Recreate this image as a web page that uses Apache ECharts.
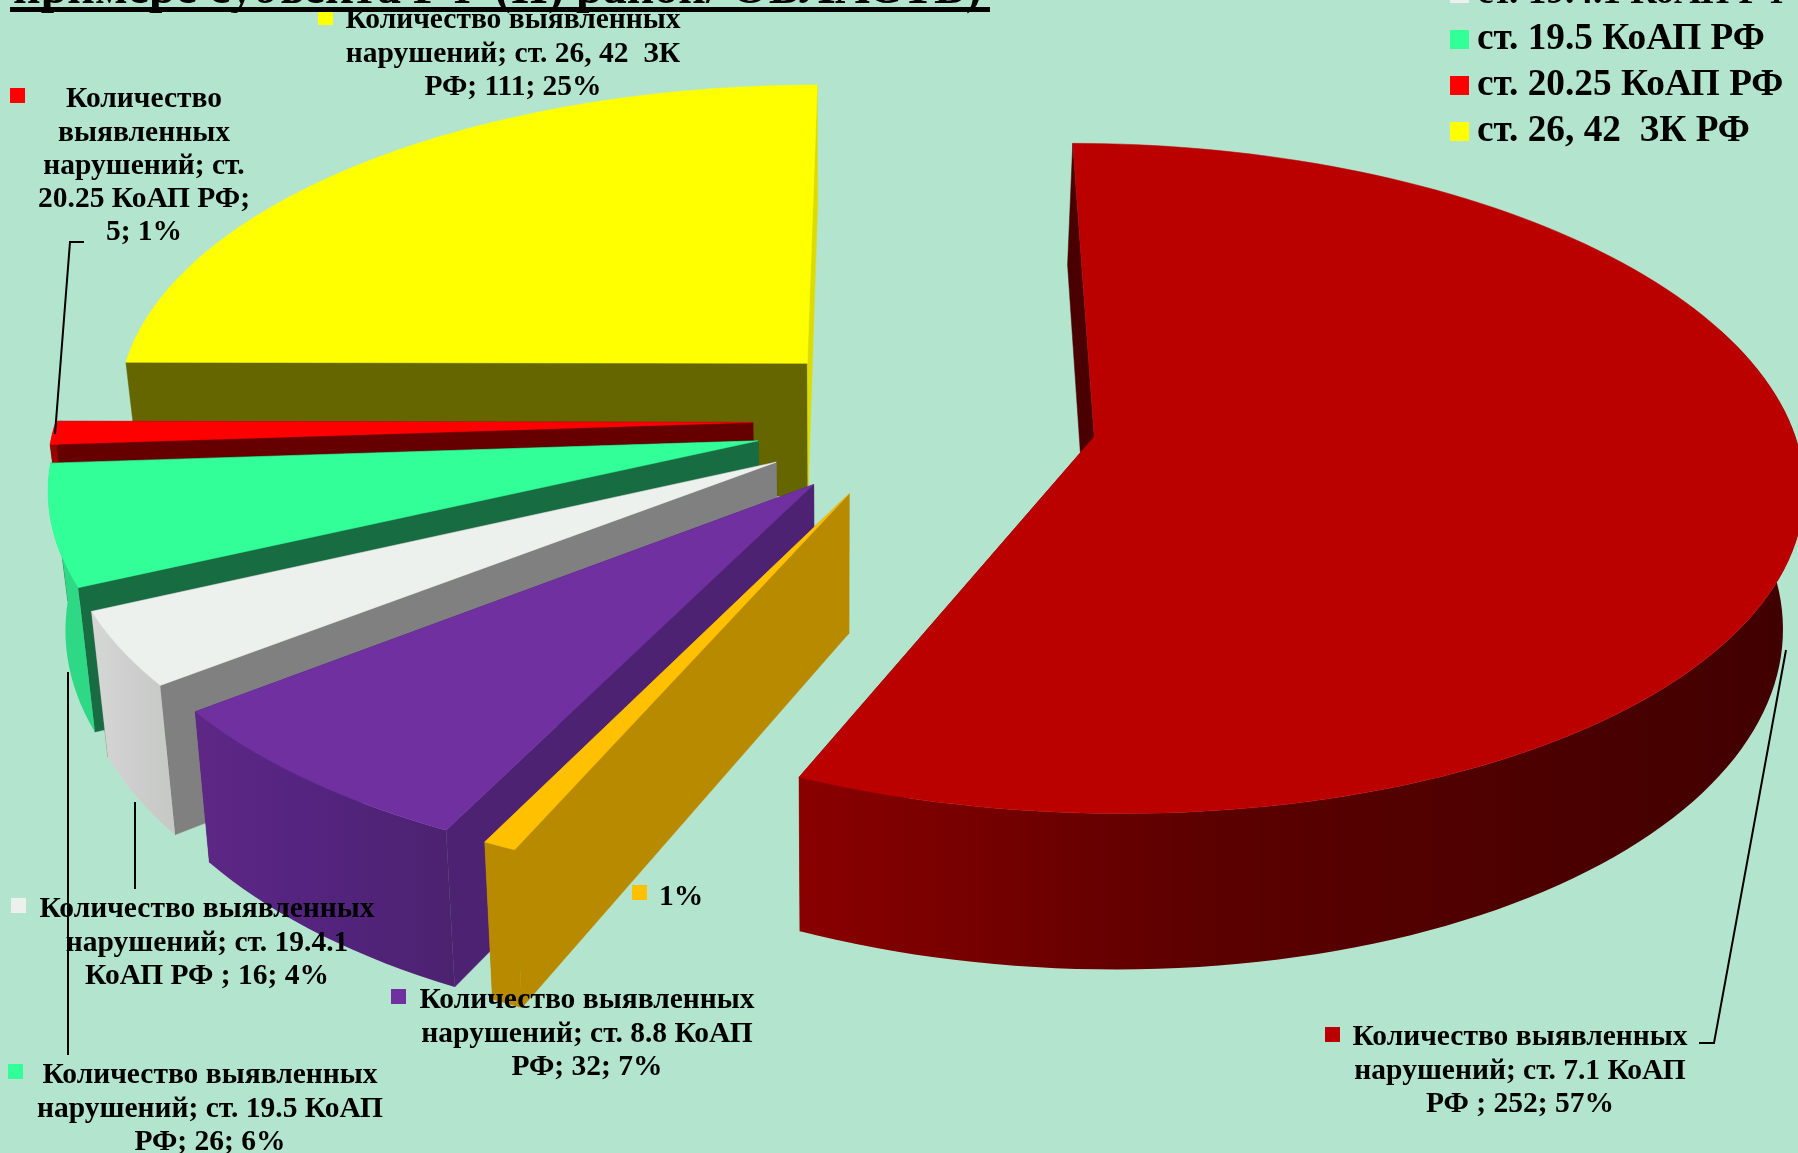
<!DOCTYPE html>
<html><head><meta charset="utf-8">
<style>html,body{margin:0;padding:0;background:#b3e5ce;overflow:hidden}#c{width:1798px;height:1153px}</style>
<script src="https://cdn.jsdelivr.net/npm/echarts@6/dist/echarts.min.js"></script>
</head><body><div id="c"></div>
<script>
// ---- data ----
const categories = ['ст. 7.1 КоАП РФ', '', 'ст. 8.8 КоАП РФ', 'ст. 19.4.1 КоАП РФ', 'ст. 19.5 КоАП РФ', 'ст. 20.25 КоАП РФ', 'ст. 26, 42  ЗК РФ'];
const values = [252, 3, 32, 16, 26, 5, 111];
const percents = [57, 1, 7, 4, 6, 1, 25];
const labelTexts = [
  'Количество выявленных\nнарушений; ст. 7.1 КоАП\nРФ ; 252; 57%',
  '1%',
  'Количество выявленных\nнарушений; ст. 8.8 КоАП\nРФ; 32; 7%',
  'Количество выявленных\nнарушений; ст. 19.4.1\nКоАП РФ ; 16; 4%',
  'Количество выявленных\nнарушений; ст. 19.5 КоАП\nРФ; 26; 6%',
  'Количество\nвыявленных\nнарушений; ст.\n20.25 КоАП РФ;\n5; 1%',
  'Количество выявленных\nнарушений; ст. 26, 42  ЗК\nРФ; 111; 25%'
];
const titleText = 'примере субъекта РФ (II) район/ ОБЛАСТЬ)';
const legendNames = categories.slice(3);

// ---- styles ----
const topColors  = ['#bb0000','#ffc000','#7030a0','#ecf1ee','#33ff99','#ff0000','#ffff00'];
const rimLeft    = ['#8a0000','#b88a00','#5e2786','#d6d8d6','#2ed884','#990000','#dcdc00'];
const rimMid     = ['#5c0000','#b88a00','#552480','#cecfce','#2ed884','#990000','#dcdc00'];
const rimRight   = ['#400000','#b88a00','#4c2270','#c6c8c6','#2ed884','#990000','#dcdc00'];
const wallStart  = ['#4a0000','#b88a00','#4d2272','#808080','#186c42','#660000','#666600'];
const wallEnd    = ['#700000','#b88a00','#4d2272','#808080','#186c42','#660000','#dcdc00'];
// drawing order: back to front
const paintOrder = [6,5,4,3,2,1,0];
// exploded offset of each slice's tip from the pie centre, in pie radii
const explodeX = [0.277,-0.071,-0.121,-0.175,-0.202,-0.211,-0.136];
const explodeY = [0.036,0.205,0.178,0.112,0.048,-0.008,-0.193];
const startAngle = 0, pieR = 698, pieRy = 327, persp = 0.1236, ox = 900, oy = 425;
const depth = 136, vanishX = 837, bottomShrink = 0.978, rimFrom = 70, rimTo = 270;
const labelBoxes = [[1520,1035],[659,895],[587,998],[207,907],[210,1073],[144,97],[513,18]];
const labelAlign = ['center','left','center','center','center','center','center'];
const squares = [[1325,1027],[632,885],[391,989],[11,898],[8,1064],[10,88],[318,10]];
const leaders = [
  [[1699,1043],[1714,1043],[1786,650]],
  null, null,
  [[135,802],[135,889]],
  [[68,672],[68,1055]],
  [[84,242],[70,242],[55,434]],
  null
];

const total = values.reduce((a,b)=>a+b,0);
let acc = 0;
const spans = values.map(v=>{const a0=acc; acc+=v; return [a0/total*360+startAngle, acc/total*360+startAngle];});

function proj(U,V){const s=1/(1-persp*V);return {x:ox+pieR*U*s,y:oy+pieRy*V*s,s};}
function rimPoint(i,a){ // a in degrees clockwise from top
  const t=a*Math.PI/180;return proj(explodeX[i]+Math.sin(t),explodeY[i]-Math.cos(t));}
function tipPoint(i){return proj(explodeX[i],explodeY[i]);}
function down(p){return [vanishX+(p.x-vanishX)*bottomShrink,p.y+depth*p.s];}
function sliceChildren(i){
  const [a0,a1]=spans[i];const n=Math.max(4,Math.round((a1-a0)/1.5));
  const arc=[],angles=[];
  for(let k=0;k<=n;k++){const a=a0+(a1-a0)*k/n;angles.push(a);arc.push(rimPoint(i,a));}
  const c=tipPoint(i);
  const xy=p=>[p.x,p.y];
  const poly=(pts,fill)=>({type:'polygon',shape:{points:pts},style:{fill,stroke:typeof fill==='string'?fill:null,lineWidth:0.5}});
  const front=arc.filter((p,k)=>angles[k]>=rimFrom&&angles[k]<=rimTo);
  const grad={type:'linear',x:0,y:0,x2:1,y2:0,colorStops:[{offset:0,color:rimLeft[i]},{offset:0.4,color:rimMid[i]},{offset:1,color:rimRight[i]}]};
  const out=[
    poly([xy(arc[0]),down(arc[0]),down(c),xy(c)],wallStart[i]),
    poly([xy(arc[n]),down(arc[n]),down(c),xy(c)],wallEnd[i])
  ];
  if(front.length>1)out.push(poly(front.map(xy).concat(front.slice().reverse().map(down)),grad));
  out.push(poly([xy(c)].concat(arc.map(xy)),topColors[i]));
  return out;
}
const textFont='"Liberation Serif","Times New Roman",serif';
const sliceSeries=paintOrder.map((i,order)=>({
  type:'custom',name:categories[i],coordinateSystem:'none',z:2+order,silent:true,
  itemStyle:{color:topColors[i]},
  data:[values[i]],
  renderItem(){return {type:'group',children:sliceChildren(i)};}
}));
const labelSeries={
  type:'custom',name:'labels',coordinateSystem:'none',z:20,silent:true,
  data:labelTexts.map((t,i)=>percents[i]),
  renderItem(params){
    const i=params.dataIndex,ch=[];
    ch.push({type:'rect',shape:{x:squares[i][0],y:squares[i][1],width:15,height:15},style:{fill:topColors[i]}});
    ch.push({type:'text',style:{x:labelBoxes[i][0],y:labelBoxes[i][1]-14,text:labelTexts[i],fill:'#000',
      font:'bold 29.5px '+textFont,align:labelAlign[i],verticalAlign:'top',lineHeight:33.3}});
    if(leaders[i])ch.push({type:'polyline',shape:{points:leaders[i]},style:{stroke:'#000',lineWidth:2,fill:null}});
    return {type:'group',children:ch};
  }
};
const chart=echarts.init(document.getElementById('c'),null,{renderer:'canvas'});
chart.setOption({
  animation:false,
  backgroundColor:'#b3e5ce',
  title:{text:titleText,left:8,top:-38,textStyle:{fontFamily:textFont,fontWeight:'bold',fontSize:48,color:'#000'}},
  legend:{data:legendNames,left:1445,top:-30,orient:'vertical',itemGap:9,itemWidth:19,itemHeight:19,icon:'rect',
    textStyle:{fontFamily:textFont,fontWeight:'bold',fontSize:37.3,color:'#000',padding:[0,0,0,3]},selectedMode:false},
  graphic:[{type:'rect',z:30,shape:{x:10,y:7,width:980,height:5},style:{fill:'#000'}}],
  series:sliceSeries.concat([labelSeries])
});
</script></body></html>
